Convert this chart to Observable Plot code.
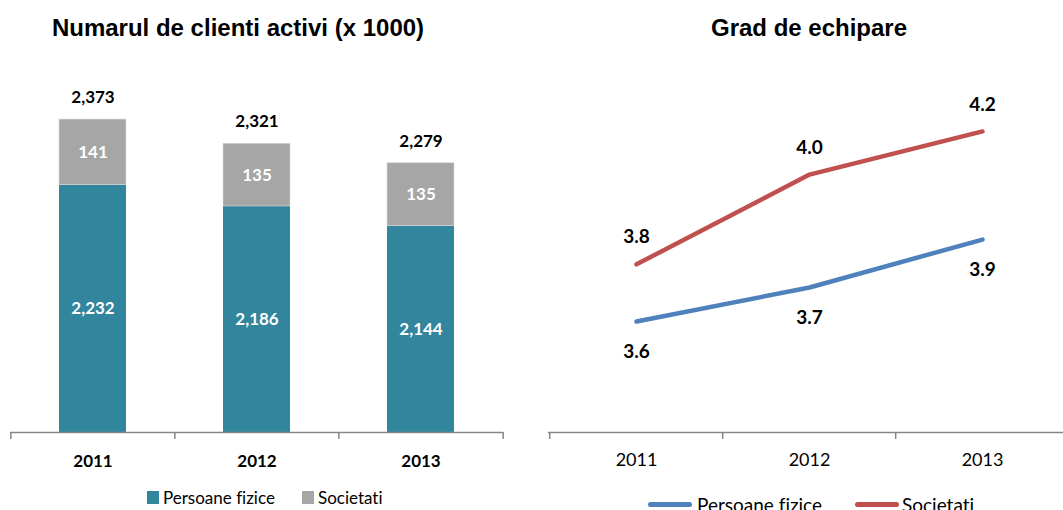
<!DOCTYPE html>
<html>
<head>
<meta charset="utf-8">
<script src="https://cdn.jsdelivr.net/npm/d3@7"></script>
<script src="https://cdn.jsdelivr.net/npm/@observablehq/plot@0.6"></script>
<style>
  html, body { margin: 0; padding: 0; background: #fff; }
  #wrap { position: relative; width: 1063px; height: 510px; overflow: hidden; background: #fff; font-variant-ligatures: none; }
  .title { position: absolute; top: 16px; transform: translateX(-50%); white-space: nowrap;
           font-family: "Liberation Sans", Arial, sans-serif; font-weight: bold; font-size: 24px; line-height: 24px; color: #000; }
  .panel { position: absolute; top: 0; }
  .panel svg { overflow: visible; font-variant-ligatures: none; }
  .leg { position: absolute; display: flex; align-items: center; white-space: nowrap; font-family: Lato, sans-serif; color: #000; font-variant-ligatures: none; }
  .sw { display: inline-block; }
</style>
</head>
<body>
<div id="wrap">
  <div class="title" style="left:238px">Numarul de clienti activi (x 1000)</div>
  <div class="title" style="left:809px">Grad de echipare</div>
  <div class="panel" id="left" style="left:0px"></div>
  <div class="panel" id="right" style="left:531px"></div>

  <div class="leg" style="left:147px; top:487px; height:20px; font-size:17px;">
    <span class="sw" style="width:12px;height:13px;background:#31859C;margin-right:4px"></span>Persoane fizice
  </div>
  <div class="leg" style="left:302px; top:487px; height:20px; font-size:17px;">
    <span class="sw" style="width:12px;height:13px;background:#A6A6A6;margin-right:4px"></span>Societati
  </div>
  <div class="leg" style="left:648px; top:493px; height:22px; font-size:19px;">
    <span class="sw" style="width:44px;height:5px;border-radius:3px;background:#4F81BD;margin-right:5px"></span>Persoane fizice
  </div>
  <div class="leg" style="left:855px; top:493px; height:22px; font-size:19px;">
    <span class="sw" style="width:44px;height:5px;border-radius:3px;background:#C0504D;margin-right:3px"></span>Societati
  </div>
</div>
<script>
// ---- Data ----
const years = ["2011", "2012", "2013"];
const persoaneFizice = [2232, 2186, 2144];   // clienti activi (x 1000)
const societati = [141, 135, 135];
const gradPersoane = [3.613, 3.713, 3.854];  // grad de echipare
const gradSocietati = [3.781, 4.045, 4.172];
const seriesNames = ["Persoane fizice", "Societati"];

// ---- Left chart: stacked bars ----
const AXIS_MIN = 1700, AXIS_MAX = 2500;
const fmt = d3.format(",");
const rows = years.map((y, i) => ({
  year: y, pf: persoaneFizice[i], soc: societati[i], total: persoaneFizice[i] + societati[i]
}));
const LW = 531, LH = 470, LML = 10, LMR = 28, LMT = 60, LMB = 38;
const lStep = (LW - LML - LMR) / years.length;
const lInner = LH - LMT - LMB;
const left = Plot.plot({
  width: LW, height: LH, marginTop: LMT, marginBottom: LMB, marginLeft: LML, marginRight: LMR,
  style: { fontFamily: "Lato, sans-serif", background: "transparent", overflow: "visible" },
  x: { domain: years, paddingInner: 0.594, paddingOuter: 0.297, label: null },
  y: { domain: [AXIS_MIN, AXIS_MAX], axis: null },
  marks: [
    Plot.barY(rows, { x: "year", y1: AXIS_MIN, y2: "pf", fill: "#31859C" }),
    Plot.barY(rows, { x: "year", y1: "pf", y2: "total", fill: "#A6A6A6", stroke: "#d9d9d9", strokeWidth: 0.6 }),
    Plot.ruleY([AXIS_MIN], { stroke: "#868686", strokeWidth: 1.5 }),
    Plot.ruleX(years, { x: d => d, dx: -lStep / 2, insetTop: lInner, insetBottom: -7, stroke: "#868686", strokeWidth: 1.5 }),
    Plot.ruleX(years.slice(-1), { x: d => d, dx: lStep / 2, insetTop: lInner, insetBottom: -7, stroke: "#868686", strokeWidth: 1.5 }),
    Plot.axisX({ tickSize: 0, tickPadding: 22, fontSize: 17, fontWeight: "bold", fill: "#000", label: null }),
    Plot.text(rows, { x: "year", y: "total", text: d => fmt(d.total), dy: -22, fontSize: 17, fontWeight: "bold", fill: "#000" }),
    Plot.text(rows, { x: "year", y: d => (d.pf + d.total) / 2, text: d => fmt(d.soc), fontSize: 17, fontWeight: "bold", fill: "#fff" }),
    Plot.text(rows, { x: "year", y: d => (AXIS_MIN + d.pf) / 2, text: d => fmt(d.pf), fontSize: 17, fontWeight: "bold", fill: "#fff" })
  ]
});
document.getElementById("left").appendChild(left);

// ---- Right chart: lines ----
const G_MIN = 3.2865, G_MAX = 4.3806;
const lineRows = [
  ...years.map((y, i) => ({ year: y, value: gradPersoane[i], series: seriesNames[0] })),
  ...years.map((y, i) => ({ year: y, value: gradSocietati[i], series: seriesNames[1] }))
];
const RW = 532, RH = 470, RML = 17, RMR = -6, RMT = 60, RMB = 38;
const rStep = (RW - RML - RMR) / years.length;
const rInner = RH - RMT - RMB;
const right = Plot.plot({
  width: RW, height: RH, marginTop: RMT, marginBottom: RMB, marginLeft: RML, marginRight: RMR,
  style: { fontFamily: "Lato, sans-serif", background: "transparent", overflow: "visible" },
  x: { type: "point", domain: years, padding: 0.5, label: null },
  y: { domain: [G_MIN, G_MAX], axis: null },
  color: { domain: seriesNames, range: ["#4F81BD", "#C0504D"] },
  marks: [
    Plot.ruleY([G_MIN], { stroke: "#868686", strokeWidth: 1.5 }),
    Plot.ruleX(years, { x: d => d, dx: -rStep / 2, insetTop: rInner, insetBottom: -7, stroke: "#868686", strokeWidth: 1.5 }),
    Plot.axisX({ tickSize: 0, tickPadding: 21, fontSize: 18, fill: "#000", label: null }),
    Plot.line(lineRows, { x: "year", y: "value", z: "series", stroke: "series", strokeWidth: 4.5, strokeLinecap: "round", strokeLinejoin: "round" }),
    Plot.text(lineRows.filter(d => d.series === seriesNames[1]), { x: "year", y: "value", text: d => d.value.toFixed(1), dy: -27, fontSize: 19, fontWeight: "bold", fill: "#000" }),
    Plot.text(lineRows.filter(d => d.series === seriesNames[0]), { x: "year", y: "value", text: d => d.value.toFixed(1), dy: 30, fontSize: 19, fontWeight: "bold", fill: "#000" })
  ]
});
document.getElementById("right").appendChild(right);
</script>
</body>
</html>
